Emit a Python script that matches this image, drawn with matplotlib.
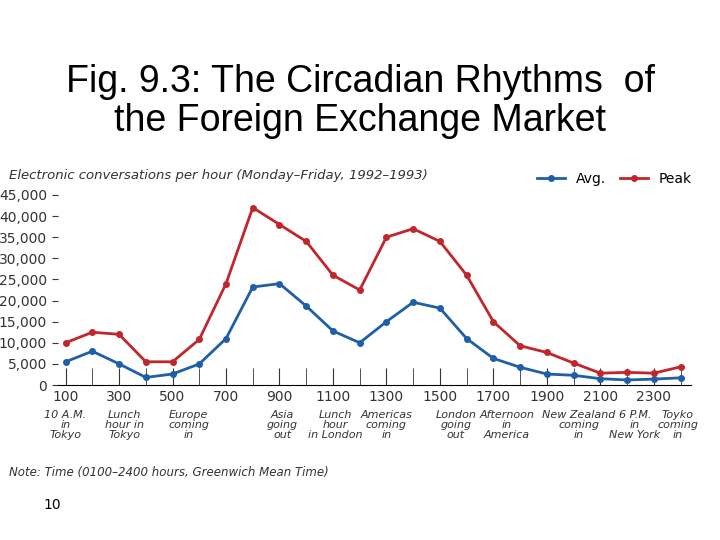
import matplotlib
matplotlib.use("Agg")
import matplotlib.pyplot as plt
from matplotlib.ticker import FuncFormatter

hours = list(range(100, 2500, 100))
peak = [10000, 12500, 12000, 5500, 5500, 10800, 24000, 42000, 38000, 34000, 26000, 22500,
        35000, 37000, 34000, 26000, 15000, 9300, 7700, 5200, 2800, 3000, 2800, 4300]
avg = [5500, 8000, 5000, 1800, 2600, 5000, 11000, 23200, 24000, 18700, 12800, 10000,
       15000, 19600, 18200, 11000, 6300, 4200, 2600, 2300, 1500, 1200, 1400, 1700]
tick_hours = list(range(100, 2400, 200))
notes = ["10 A.M.\nin\nTokyo", "Lunch\nhour in\nTokyo", "Europe\ncoming\nin",
         "Asia\ngoing\nout", "Lunch\nhour\nin London", "Americas\ncoming\nin", "London\ngoing\nout",
         "Afternoon\nin\nAmerica", "New Zealand\ncoming\nin", "6 P.M.\nin\nNew York", "Toyko\ncoming\nin"]
note_hours = [100, 320, 560, 910, 1110, 1300, 1560, 1750, 2020, 2230, 2390]

BLUE = "#1f5fa8"
RED = "#c0272d"
GRAY = "#333333"

fig = plt.figure(figsize=(7.2, 5.4), dpi=100)
fig.text(0.5, 0.812, "Fig. 9.3: The Circadian Rhythms  of\nthe Foreign Exchange Market",
         ha="center", va="center", fontsize=27, family="Liberation Sans", linespacing=1.1)

ax = fig.add_axes([0.08, 0.287, 0.88, 0.352])
ax.plot(hours, avg, color=BLUE, marker="o", markersize=4, linewidth=2, label="Avg.")
ax.plot(hours, peak, color=RED, marker="o", markersize=4, linewidth=2, label="Peak")
ax.set_xlim(70, 2440)
ax.set_ylim(0, 45000)
ax.set_yticks(range(0, 45001, 5000))
ax.yaxis.set_major_formatter(FuncFormatter(lambda v, _: f"{int(v):,}"))
ax.set_xticks(tick_hours)
ax.set_xticks(hours, minor=True)
ax.tick_params(axis="x", which="both", direction="in", length=12, labelsize=10, colors=GRAY)
ax.tick_params(axis="y", labelsize=10, colors=GRAY, length=4)
for s in ["top", "right"]:
    ax.spines[s].set_visible(False)
ax.spines["left"].set_visible(False)
ax.legend(loc="lower right", bbox_to_anchor=(1.01, 1.02), ncol=2, frameon=False,
          fontsize=10, handlelength=2, borderaxespad=0, columnspacing=1)

for h, t in zip(note_hours, notes):
    ax.text(h, -6000, t, ha="center", va="top", fontsize=8, style="italic",
            color=GRAY, linespacing=0.95, family="Liberation Sans Narrow")

fig.text(0.012, 0.675, "Electronic conversations per hour (Monday\u2013Friday, 1992\u20131993)",
         fontsize=9.5, style="italic", color=GRAY, va="center")
fig.text(0.012, 0.125, "Note: Time (0100\u20132400 hours, Greenwich Mean Time)",
         fontsize=8.5, style="italic", color=GRAY, va="center")
fig.text(0.06, 0.065, "10", fontsize=10, va="center")

fig.savefig("out.png", dpi=100)
